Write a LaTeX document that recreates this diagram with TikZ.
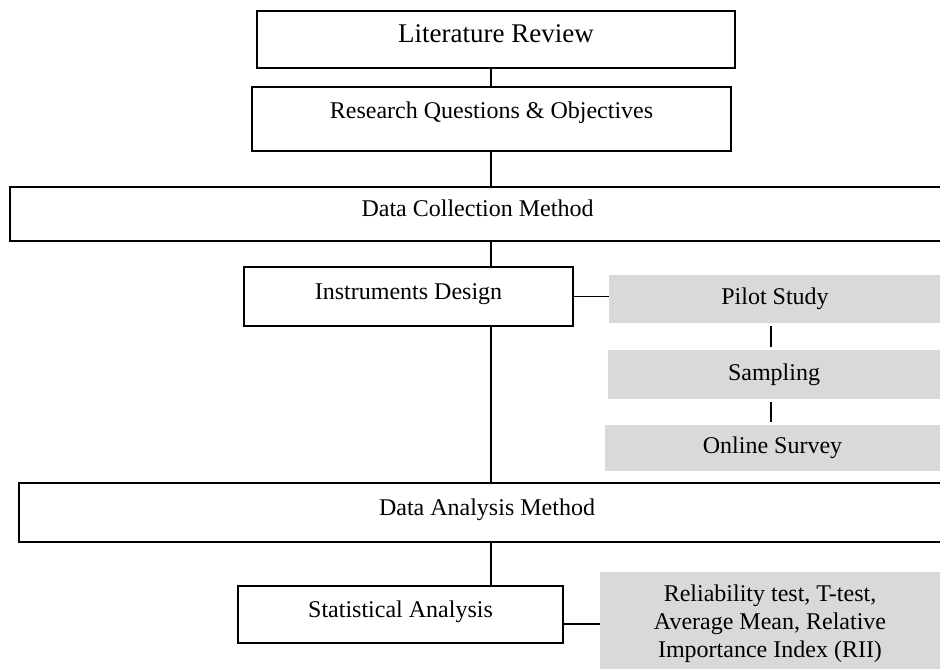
\documentclass[tikz,border=0pt]{standalone}
\usepackage{fontspec}
\setmainfont{Liberation Serif}
\usetikzlibrary{positioning, calc}
\definecolor{negro}{HTML}{000000}
\definecolor{grisrelleno}{HTML}{D9D9D9}
\tikzset{
  etapa/.style={rectangle, draw=negro, line width=1pt, fill=white, inner sep=0pt,
                font=\fontsize{12}{14}\selectfont, align=center, text height=8.5pt, text depth=6pt},
  gris/.style={rectangle, fill=grisrelleno, inner sep=0pt,
               font=\fontsize{12}{14}\selectfont, align=center},
  enlace/.style={line width=0.6pt, draw=negro},
  enlacegris/.style={line width=1pt, draw=negro, shorten <=1.5pt, shorten >=1.5pt}
}
\begin{document}
\begin{tikzpicture}[x=1pt, y=-1pt]
  \useasboundingbox (0,0) rectangle (470,334);
  \node (lit) [etapa, minimum width=239pt, minimum height=28.5pt, font=\fontsize{13.5}{16}\selectfont, text height=9.5pt, text depth=6.5pt] at (248,19.75) {Literature Review};
  \node (rq) [etapa, minimum width=239.5pt, minimum height=32pt, text depth=9pt] at (245.75,59.5) {Research Questions \& Objectives};
  \node (dcm) [etapa, minimum width=467.5pt, minimum height=27pt] at (238.75,107) {Data Collection Method};
  \node (ins) [etapa, minimum width=164.5pt, minimum height=29.5pt] at (204.25,148.25) {Instruments Design};
  \node (pilot) [gris, minimum width=166pt, minimum height=24pt] at (387.5,149.5) {Pilot Study};
  \node (samp) [gris, minimum width=166pt, minimum height=24.5pt] at (387,187.25) {Sampling};
  \node (online) [gris, minimum width=167.5pt, minimum height=23pt] at (386.25,224) {Online Survey};
  \node (dam) [etapa, minimum width=468pt, minimum height=29.5pt] at (243.5,256.25) {Data Analysis Method};
  \node (stat) [etapa, minimum width=162.5pt, minimum height=28.5pt] at (200.25,307.25) {Statistical Analysis};
  \node (rii) [gris, minimum width=170pt, minimum height=52pt] at (385,312) {Reliability test, T-test,\\ Average Mean, Relative\\ Importance Index (RII)};
  \coordinate (eje) at (245.5,0);
  \coordinate (ejegris) at (385.5,0);
  \draw [enlace] (lit.south -| eje) -- (rq.north -| eje);
  \draw [enlace] (rq.south -| eje) -- (dcm.north -| eje);
  \draw [enlace] (dcm.south -| eje) -- (ins.north -| eje);
  \draw [enlace] (ins.south -| eje) -- (dam.north -| eje);
  \draw [enlace] (dam.south -| eje) -- (stat.north -| eje);
  \draw [enlace] (ins.east) -- (ins.east -| pilot.west);
  \draw [enlacegris] (pilot.south -| ejegris) -- (samp.north -| ejegris);
  \draw [enlacegris] (samp.south -| ejegris) -- (online.north -| ejegris);
  \draw [enlace] (stat.east |- rii.west) -- (rii.west);
\end{tikzpicture}
\end{document}
